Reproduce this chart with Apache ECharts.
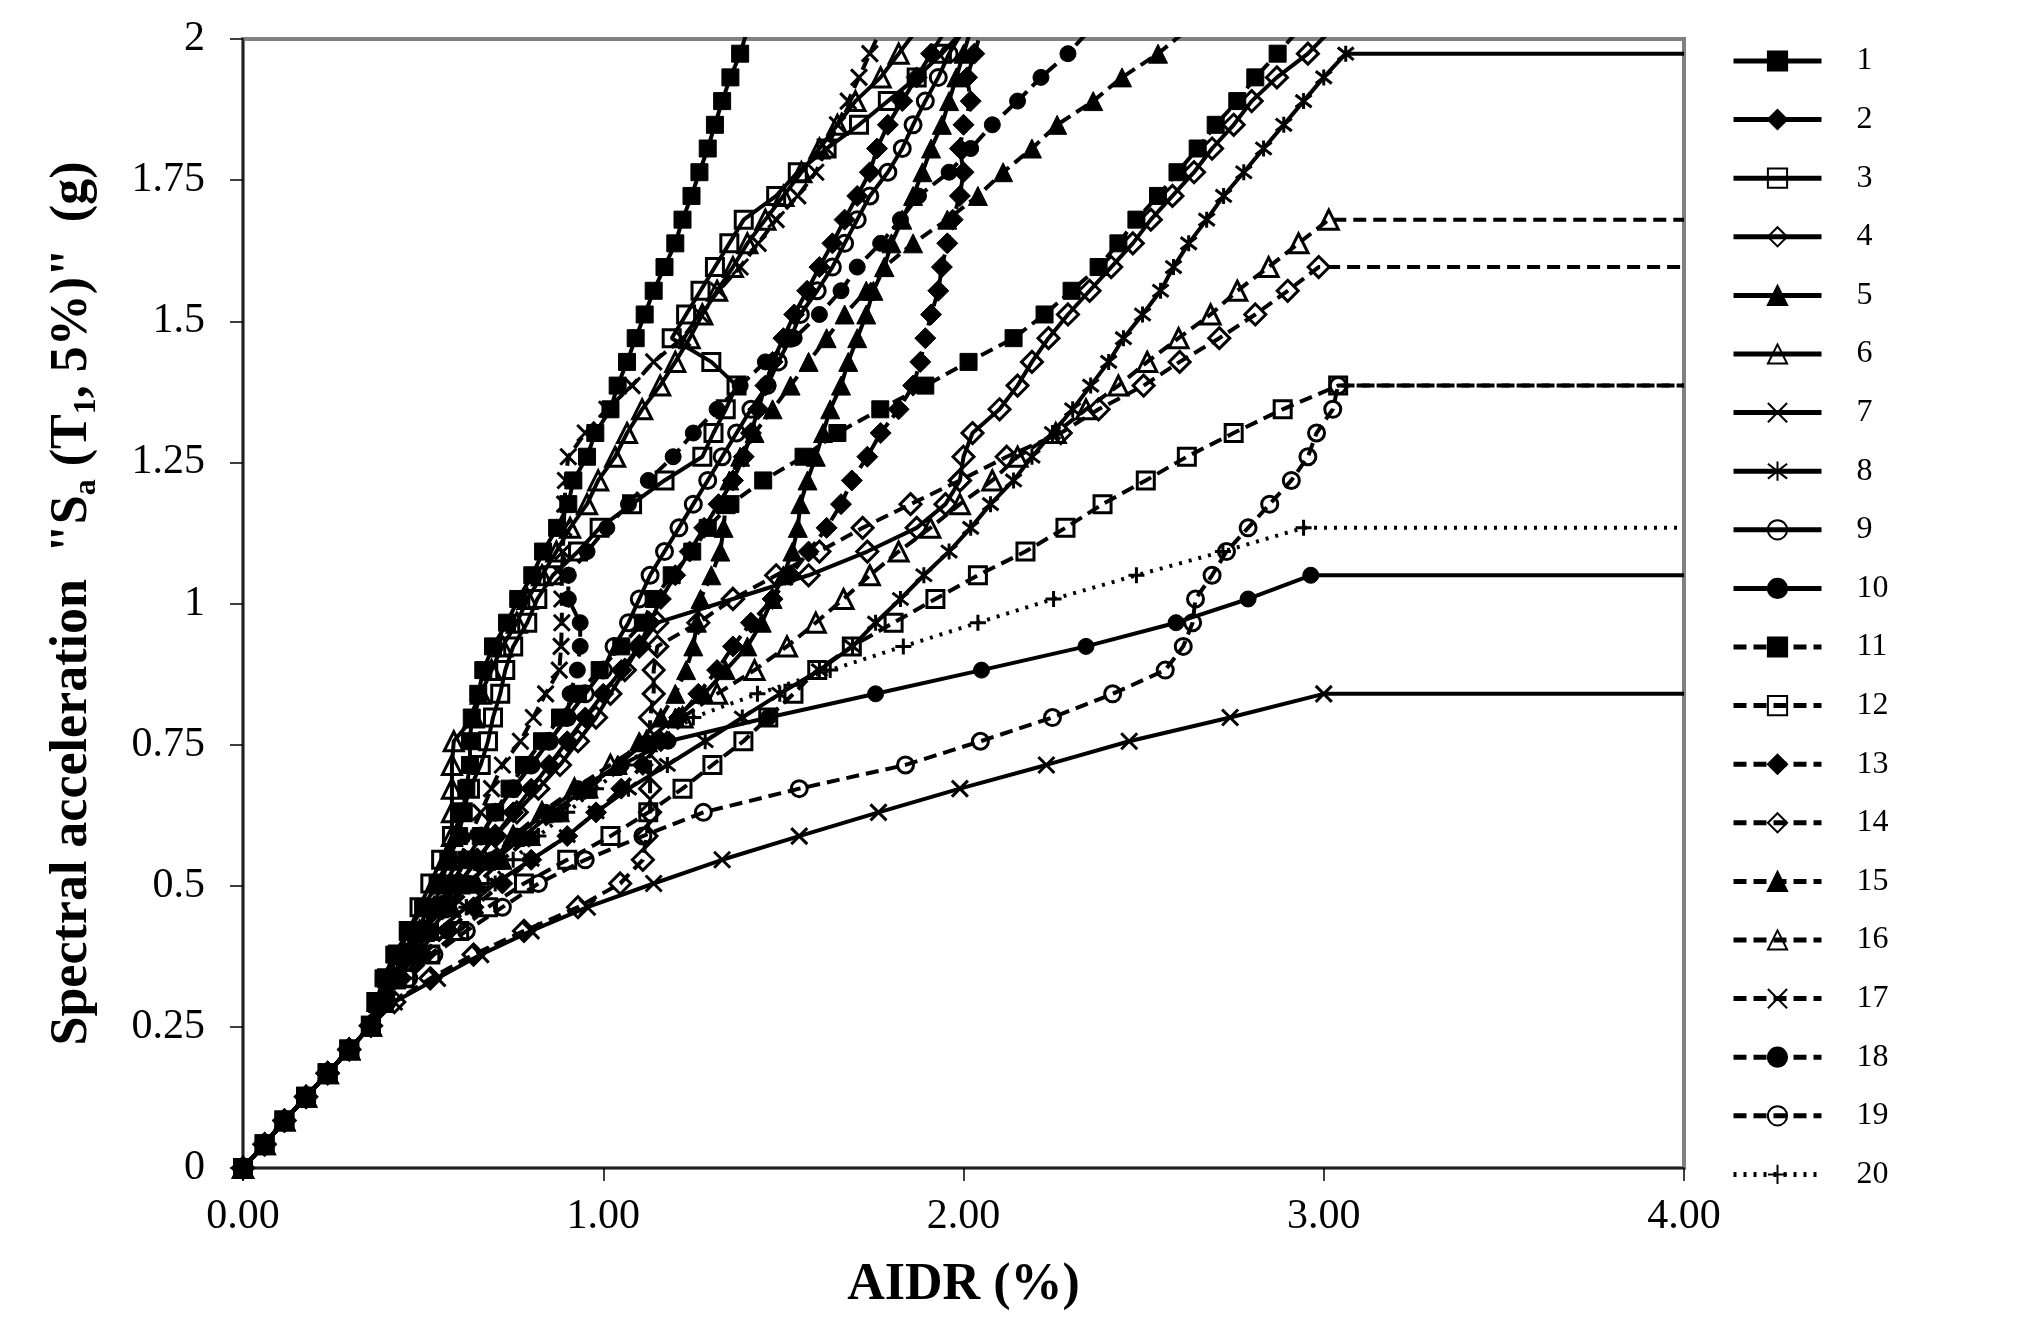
<!DOCTYPE html>
<html>
<head>
<meta charset="utf-8">
<script src="https://cdn.jsdelivr.net/npm/echarts@6/dist/echarts.min.js"></script>
<style>
  html, body { margin: 0; background: #fff; }
  #chart { width: 2023px; height: 1318px; }
</style>
</head>
<body>
<div id="chart"></div>
<script>
// Sa(T1,5%) levels of the IDA steps (g)
var saLevels = [0, 0.042, 0.084, 0.126, 0.168, 0.21, 0.252, 0.294, 0.336, 0.378,
  0.42, 0.462, 0.504, 0.546, 0.588, 0.63, 0.672, 0.714, 0.756, 0.798,
  0.84, 0.882, 0.924, 0.966, 1.008, 1.05, 1.092, 1.134, 1.176, 1.218,
  1.26, 1.302, 1.344, 1.386, 1.428, 1.47, 1.512, 1.554, 1.596, 1.638,
  1.68, 1.722, 1.764, 1.806, 1.848, 1.89, 1.932, 1.974, 2.016];

// AIDR (%) of each record at each Sa level
var aidr1 = [0, 0.06, 0.115, 0.175, 0.235, 0.295, 0.355, 0.37, 0.39, 0.42, 0.46, 0.50, 0.54, 0.57, 0.60, 0.61, 0.62, 0.63, 0.63, 0.635, 0.653, 0.667, 0.694, 0.733, 0.764, 0.803, 0.833, 0.872, 0.903, 0.917, 0.955, 0.978, 1.02, 1.04, 1.066, 1.09, 1.115, 1.14, 1.17, 1.2, 1.22, 1.245, 1.267, 1.29, 1.31, 1.33, 1.353, 1.38, 1.40];
var aidr2 = [0, 0.06, 0.115, 0.175, 0.235, 0.295, 0.355, 0.38, 0.42, 0.46, 0.5, 0.55, 0.6, 0.65, 0.7, 0.75, 0.8, 0.85, 0.9, 0.95, 1.0, 1.05, 1.1, 1.13, 1.16, 1.2, 1.24, 1.28, 1.32, 1.36, 1.39, 1.41, 1.43, 1.45, 1.47, 1.5, 1.53, 1.566, 1.6, 1.636, 1.67, 1.705, 1.74, 1.76, 1.79, 1.83, 1.87, 1.91, 1.95];
var aidr3 = [0, 0.06, 0.115, 0.175, 0.235, 0.295, 0.355, 0.37, 0.40, 0.43, 0.46, 0.49, 0.52, 0.55, 0.58, 0.61, 0.63, 0.66, 0.68, 0.694, 0.714, 0.728, 0.75, 0.789, 0.817, 0.86, 0.93, 0.99, 1.08, 1.17, 1.275, 1.306, 1.34, 1.37, 1.30, 1.19, 1.23, 1.27, 1.31, 1.35, 1.39, 1.48, 1.54, 1.62, 1.71, 1.79, 1.87, 1.94, 2.0];
var aidr4 = [0, 0.06, 0.115, 0.175, 0.235, 0.295, 0.355, 0.38, 0.42, 0.46, 0.5, 0.55, 0.6, 0.65, 0.7, 0.76, 0.82, 0.88, 0.93, 0.98, 1.02, 1.06, 1.1, 1.15, 1.36, 1.57, 1.733, 1.87, 1.95, 1.99, 2.0, 2.025, 2.1, 2.15, 2.19, 2.236, 2.29, 2.35, 2.41, 2.47, 2.52, 2.58, 2.64, 2.69, 2.75, 2.8, 2.87, 2.956, 3.02];
var aidr5 = [0, 0.06, 0.115, 0.175, 0.235, 0.295, 0.355, 0.37, 0.41, 0.45, 0.5, 0.56, 0.62, 0.7, 0.78, 0.86, 0.95, 1.04, 1.12, 1.2, 1.28, 1.34, 1.4, 1.44, 1.47, 1.5, 1.525, 1.54, 1.547, 1.567, 1.59, 1.61, 1.63, 1.66, 1.68, 1.705, 1.73, 1.75, 1.78, 1.8, 1.83, 1.86, 1.886, 1.91, 1.94, 1.96, 1.98, 2.0, 2.02];
var aidr6 = [0, 0.06, 0.115, 0.175, 0.235, 0.295, 0.355, 0.38, 0.42, 0.46, 0.5, 0.53, 0.55, 0.57, 0.58, 0.58, 0.58, 0.58, 0.585, 0.64, 0.66, 0.69, 0.72, 0.76, 0.79, 0.83, 0.87, 0.908, 0.955, 0.986, 1.033, 1.066, 1.108, 1.158, 1.2, 1.24, 1.275, 1.316, 1.36, 1.40, 1.45, 1.5, 1.55, 1.6, 1.65, 1.70, 1.77, 1.82, 1.87];
var aidr7 = [0, 0.06, 0.115, 0.175, 0.235, 0.295, 0.355, 0.42, 0.54, 0.66, 0.80, 0.956, 1.14, 1.33, 1.544, 1.764, 1.99, 2.23, 2.46, 2.74, 3.0];
var aidr8 = [0, 0.06, 0.115, 0.175, 0.235, 0.295, 0.355, 0.39, 0.43, 0.48, 0.54, 0.62, 0.7, 0.8, 0.9, 0.98, 1.07, 1.178, 1.283, 1.386, 1.49, 1.6, 1.692, 1.756, 1.825, 1.89, 1.96, 2.02, 2.075, 2.139, 2.19, 2.247, 2.303, 2.353, 2.403, 2.444, 2.497, 2.547, 2.583, 2.625, 2.675, 2.722, 2.778, 2.833, 2.889, 2.944, 3.0, 3.061];
var aidr9 = [0, 0.06, 0.115, 0.175, 0.235, 0.295, 0.355, 0.38, 0.42, 0.46, 0.5, 0.54, 0.58, 0.62, 0.66, 0.7, 0.75, 0.8, 0.85, 0.9, 0.95, 1.0, 1.03, 1.07, 1.10, 1.13, 1.17, 1.21, 1.25, 1.29, 1.33, 1.37, 1.41, 1.455, 1.486, 1.52, 1.547, 1.594, 1.636, 1.67, 1.705, 1.74, 1.79, 1.83, 1.86, 1.894, 1.93, 1.96, 2.0];
var aidr10 = [0, 0.06, 0.115, 0.175, 0.235, 0.295, 0.355, 0.38, 0.42, 0.47, 0.52, 0.57, 0.63, 0.69, 0.76, 0.84, 0.93, 1.05, 1.18, 1.458, 1.756, 2.05, 2.34, 2.59, 2.79, 2.964];
var aidr11 = [0, 0.06, 0.115, 0.175, 0.235, 0.295, 0.355, 0.38, 0.42, 0.46, 0.5, 0.54, 0.58, 0.62, 0.66, 0.7, 0.74, 0.78, 0.83, 0.88, 0.93, 0.99, 1.05, 1.11, 1.14, 1.19, 1.247, 1.29, 1.353, 1.444, 1.556, 1.65, 1.769, 1.894, 2.014, 2.139, 2.225, 2.30, 2.375, 2.43, 2.48, 2.54, 2.594, 2.65, 2.70, 2.76, 2.81, 2.872, 2.93];
var aidr12 = [0, 0.06, 0.115, 0.175, 0.235, 0.295, 0.355, 0.39, 0.45, 0.52, 0.6, 0.68, 0.78, 0.9, 1.02, 1.125, 1.22, 1.303, 1.389, 1.458, 1.528, 1.594, 1.69, 1.806, 1.922, 2.04, 2.172, 2.283, 2.386, 2.506, 2.62, 2.75, 2.886, 3.04];
var aidr13 = [0, 0.06, 0.115, 0.175, 0.235, 0.295, 0.355, 0.39, 0.44, 0.5, 0.57, 0.64, 0.72, 0.8, 0.9, 0.98, 1.05, 1.11, 1.16, 1.21, 1.264, 1.316, 1.36, 1.41, 1.47, 1.52, 1.57, 1.62, 1.66, 1.69, 1.733, 1.77, 1.82, 1.86, 1.88, 1.894, 1.91, 1.93, 1.94, 1.955, 1.97, 1.99, 2.0, 1.99, 2.0, 2.02, 2.01, 2.03, 2.05];
var aidr14 = [0, 0.06, 0.115, 0.175, 0.235, 0.295, 0.355, 0.42, 0.52, 0.64, 0.78, 0.93, 1.047, 1.11, 1.12, 1.13, 1.13, 1.13, 1.13, 1.13, 1.14, 1.14, 1.15, 1.264, 1.36, 1.48, 1.6, 1.72, 1.853, 1.99, 2.12, 2.27, 2.375, 2.5, 2.6, 2.71, 2.81, 2.9, 2.986];
var aidr15 = [0, 0.06, 0.115, 0.175, 0.235, 0.295, 0.355, 0.38, 0.42, 0.47, 0.52, 0.58, 0.65, 0.72, 0.8, 0.88, 0.96, 1.04, 1.1, 1.16, 1.2, 1.23, 1.25, 1.26, 1.27, 1.30, 1.325, 1.334, 1.34, 1.35, 1.38, 1.42, 1.47, 1.52, 1.57, 1.62, 1.67, 1.73, 1.78, 1.86, 1.955, 2.04, 2.11, 2.19, 2.26, 2.36, 2.44, 2.54, 2.62];
var aidr16 = [0, 0.06, 0.115, 0.175, 0.235, 0.295, 0.355, 0.39, 0.42, 0.45, 0.49, 0.54, 0.6, 0.67, 0.75, 0.83, 0.92, 1.02, 1.12, 1.22, 1.316, 1.42, 1.51, 1.59, 1.667, 1.74, 1.82, 1.908, 1.99, 2.08, 2.15, 2.256, 2.34, 2.43, 2.51, 2.597, 2.686, 2.76, 2.847, 2.93, 3.014];
var aidr17 = [0, 0.06, 0.115, 0.175, 0.235, 0.295, 0.355, 0.37, 0.4, 0.44, 0.48, 0.52, 0.56, 0.6, 0.63, 0.66, 0.69, 0.72, 0.77, 0.806, 0.84, 0.878, 0.883, 0.885, 0.885, 0.885, 0.888, 0.89, 0.893, 0.895, 0.903, 0.95, 1.01, 1.08, 1.14, 1.22, 1.27, 1.32, 1.38, 1.43, 1.48, 1.54, 1.59, 1.62, 1.65, 1.68, 1.71, 1.74, 1.77];
var aidr18 = [0, 0.06, 0.115, 0.175, 0.235, 0.295, 0.355, 0.38, 0.42, 0.46, 0.5, 0.54, 0.58, 0.62, 0.66, 0.7, 0.75, 0.8, 0.85, 0.9, 0.908, 0.928, 0.936, 0.936, 0.903, 0.903, 0.955, 1.01, 1.07, 1.125, 1.194, 1.25, 1.316, 1.38, 1.45, 1.53, 1.6, 1.66, 1.705, 1.77, 1.825, 1.875, 1.96, 2.02, 2.08, 2.15, 2.215, 2.29, 2.35];
var aidr19 = [0, 0.06, 0.115, 0.175, 0.235, 0.295, 0.355, 0.40, 0.46, 0.53, 0.62, 0.72, 0.82, 0.95, 1.11, 1.278, 1.544, 1.839, 2.047, 2.247, 2.414, 2.56, 2.61, 2.636, 2.644, 2.69, 2.73, 2.79, 2.85, 2.91, 2.956, 2.98, 3.025, 3.04];
var aidr20 = [0, 0.06, 0.115, 0.175, 0.235, 0.295, 0.355, 0.40, 0.45, 0.5, 0.56, 0.62, 0.68, 0.75, 0.82, 0.9, 0.98, 1.06, 1.15, 1.25, 1.428, 1.63, 1.833, 2.04, 2.25, 2.48, 2.72, 2.944];

var recordNames = ['1', '2', '3', '4', '5', '6', '7', '8', '9', '10',
  '11', '12', '13', '14', '15', '16', '17', '18', '19', '20'];
// records that collapse: their last level is held out to the end of the axis
var collapsed = ['7', '8', '10', '12', '14', '16', '19', '20'];
var aidrEnd = 4;

var allAidr = [aidr1, aidr2, aidr3, aidr4, aidr5, aidr6, aidr7, aidr8, aidr9, aidr10,
  aidr11, aidr12, aidr13, aidr14, aidr15, aidr16, aidr17, aidr18, aidr19, aidr20];

var CROSS = 'path://M0,0L10,10M10,0L0,10';
var STAR = 'path://M0,0L10,10M10,0L0,10M5,-1.5L5,11.5';
var PLUS = 'path://M5,0L5,10M0,5L10,5';

// marker, filled, line type for each record
var look = [
  ['rect', 1, 'solid'], ['diamond', 1, 'solid'], ['rect', 0, 'solid'], ['diamond', 0, 'solid'],
  ['triangle', 1, 'solid'], ['triangle', 0, 'solid'], [CROSS, 0, 'solid'], [STAR, 0, 'solid'],
  ['circle', 0, 'solid'], ['circle', 1, 'solid'],
  ['rect', 1, 'dash'], ['rect', 0, 'dash'], ['diamond', 1, 'dash'], ['diamond', 0, 'dash'],
  ['triangle', 1, 'dash'], ['triangle', 0, 'dash'], [CROSS, 0, 'dash'], ['circle', 1, 'dash'],
  ['circle', 0, 'dash'], [PLUS, 0, 'dot']
];

function markerSize(m) {
  if (m === 'rect') return 17;
  if (m === 'diamond') return 21;
  if (m === 'triangle') return 19;
  if (m === 'circle') return 16;
  return 16;
}

var series = recordNames.map(function(name, i) {
  var vals = allAidr[i];
  var data = vals.map(function(x, k) { return [x, saLevels[k]]; });
  if (collapsed.indexOf(name) >= 0) {
    data.push({ value: [aidrEnd, saLevels[vals.length - 1]], symbol: 'none' });
  }
  var m = look[i][0], filled = look[i][1], lt = look[i][2];
  var lineType = lt === 'dash' ? [13, 7] : (lt === 'dot' ? [3, 7] : 'solid');
  return {
    name: name,
    type: 'line',
    data: data,
    symbol: m,
    symbolSize: markerSize(m),
    clip: true,
    lineStyle: { color: '#000', width: 4, type: lineType },
    itemStyle: {
      color: filled ? '#000' : 'rgba(0,0,0,0)',
      borderColor: '#000',
      borderWidth: filled ? 1 : 3
    },
    emphasis: { disabled: true },
    z: 2
  };
});

var chart = echarts.init(document.getElementById('chart'), null, { renderer: 'canvas' });
chart.setOption({
  backgroundColor: '#fff',
  animation: false,
  grid: {
    left: 243, top: 39, width: 1441, height: 1129,
    show: true, borderColor: '#808080', borderWidth: 4, backgroundColor: 'transparent'
  },
  legend: {
    orient: 'vertical',
    left: 1726, top: 40,
    itemWidth: 88, itemHeight: 24, itemGap: 26.6,
    lineStyle: { width: 5 },
    textStyle: { fontFamily: 'Liberation Serif', fontSize: 32, color: '#000', padding: [0, 0, 0, 30] },
    data: recordNames
  },
  xAxis: {
    type: 'value', min: 0, max: 4, interval: 1,
    name: 'AIDR (%)', nameLocation: 'middle', nameGap: 92,
    nameTextStyle: { fontFamily: 'Liberation Serif', fontWeight: 'bold', fontSize: 52, color: '#000' },
    axisLine: { show: true, onZero: false, lineStyle: { color: '#000', width: 1.5 } },
    axisTick: { show: true, length: 13, lineStyle: { color: '#000', width: 1.5 } },
    axisLabel: {
      fontFamily: 'Liberation Serif', fontSize: 42, color: '#000', margin: 28,
      formatter: function(v) { return v.toFixed(2); }
    },
    splitLine: { show: false }
  },
  yAxis: {
    type: 'value', min: 0, max: 2, interval: 0.25,
    name: '{b|Spectral acceleration  "S}{s|a}{b| (T}{s|1}{b|, 5%)"  (g)}',
    nameLocation: 'middle', nameGap: 140, nameRotate: 90,
    nameTextStyle: {
      rich: {
        b: { fontFamily: 'Liberation Serif', fontWeight: 'bold', fontSize: 52, color: '#000', lineHeight: 60 },
        s: { fontFamily: 'Liberation Serif', fontWeight: 'bold', fontSize: 32, color: '#000', verticalAlign: 'bottom', lineHeight: 60, padding: [22, 0, 0, 0] }
      }
    },
    axisLine: { show: true, lineStyle: { color: '#000', width: 1.5 } },
    axisTick: { show: true, length: 13, lineStyle: { color: '#000', width: 1.5 } },
    axisLabel: {
      fontFamily: 'Liberation Serif', fontSize: 42, color: '#000', margin: 38,
      formatter: function(v) { return String(v); }
    },
    splitLine: { show: false }
  },
  series: series
});
</script>
</body>
</html>
